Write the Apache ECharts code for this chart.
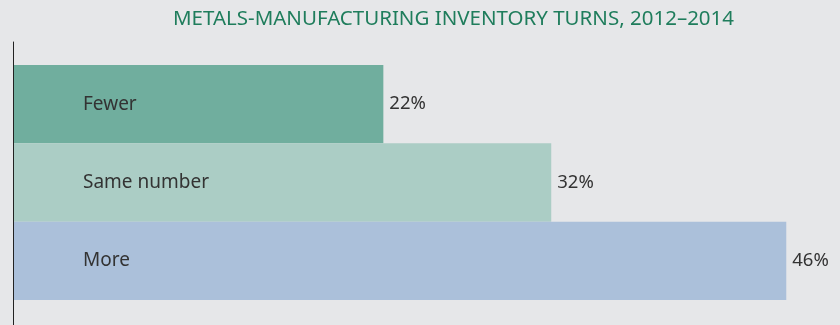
<!DOCTYPE html>
<html><head><meta charset="utf-8">
<script src="https://cdn.jsdelivr.net/npm/echarts@6/dist/echarts.min.js"></script>
<style>html,body{margin:0;padding:0;background:#e6e7e9}#c{width:840px;height:325px}</style>
</head><body><div id="c"></div>
<script>
const title = 'METALS-MANUFACTURING INVENTORY TURNS, 2012–2014';
const categories = ['Fewer', 'Same number', 'More'];
const values = [22, 32, 46];
const colors = ['#70ae9e', '#abcdc5', '#abc0da'];

const chart = echarts.init(document.getElementById('c'));
chart.setOption({
  backgroundColor: '#e6e7e9',
  animation: false,
  title: {
    text: title, left: 168, top: 4,
    textStyle: {color: '#1f7d5c', fontFamily: 'Noto Sans', fontWeight: 'normal', fontSize: 20.5}
  },
  grid: [
    {left: 14, right: 0, top: 65, bottom: 25},
    {left: 13, right: 0, top: 42, bottom: 0}
  ],
  xAxis: [
    {type: 'value', min: 0, max: 49.2, gridIndex: 0, show: false},
    {type: 'value', min: 0, max: 1, gridIndex: 1, show: false}
  ],
  yAxis: [
    {type: 'category', data: categories, inverse: true, gridIndex: 0,
     axisLine: {show: false}, axisTick: {show: false},
     axisLabel: {inside: true, margin: 69, color: '#333', fontFamily: 'Noto Sans', fontSize: 19, align: 'left'},
     z: 10},
    {type: 'value', gridIndex: 1, min: 0, max: 1,
     axisLine: {show: true, lineStyle: {color: '#222', width: 1}},
     axisTick: {show: false}, axisLabel: {show: false}, splitLine: {show: false}}
  ],
  series: [{
    type: 'bar', xAxisIndex: 0, yAxisIndex: 0,
    barCategoryGap: 0,
    data: values.map((v, i) => ({value: v, itemStyle: {color: colors[i]}})),
    label: {show: true, position: 'right', distance: 6, formatter: '{c}%',
            color: '#333', fontFamily: 'Noto Sans', fontSize: 18.5}
  }]
});
</script></body></html>
